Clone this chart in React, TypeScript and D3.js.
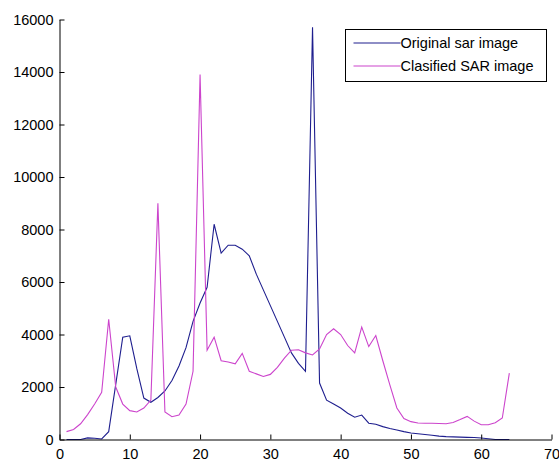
import React from "react";
import * as d3 from "d3";

// bins 1..64
const bins = d3.range(1, 65);

const originalSar = [
  0, 0, 0, 60, 50, 20, 300, 2100, 3900, 3950,
  2700, 1580, 1420, 1600, 1850, 2250, 2800, 3500, 4500, 5200,
  5800, 8200, 7100, 7400, 7400, 7250, 7000, 6300, 5700, 5100,
  4500, 3900, 3300, 2900, 2600, 15700, 2150, 1500, 1350, 1200,
  1000, 850, 930, 620, 580, 490, 420, 360, 300, 250,
  220, 190, 160, 130, 110, 100, 90, 80, 75, 60,
  30, 0, 0, 0,
];

const classifiedSar = [
  300, 380, 600, 950, 1350, 1800, 4580, 2000, 1350, 1100,
  1050, 1200, 1500, 9000, 1050, 870, 930, 1350, 2600, 13900,
  3400, 3900, 3000, 2950, 2880, 3280, 2600, 2500, 2400, 2480,
  2750, 3100, 3400, 3420, 3300, 3220, 3450, 4000, 4220, 4000,
  3580, 3300, 4280, 3540, 3960, 3000, 2080, 1200, 800, 680,
  630, 620, 620, 610, 600, 650, 760, 880, 700, 560,
  560, 640, 820, 2530,
];

const xTicks = [0, 10, 20, 30, 40, 50, 60, 70];
const yTicks = [0, 2000, 4000, 6000, 8000, 10000, 12000, 14000, 16000];

const seriesNames = ["Original sar image", "Clasified SAR image"];
const seriesColors = ["#1e1e8e", "#cc44cc"];

export default function App() {
  const width = 559;
  const height = 463;
  const left = 59.5;
  const right = 551.5;
  const top = 19.5;
  const bottom = 439.5;
  const font = "'Liberation Sans', Arial, sans-serif";

  const svgRef = React.useRef<SVGSVGElement>(null);

  React.useEffect(() => {
    const svg = d3.select(svgRef.current);

    const xScale = d3.scaleLinear().domain([0, 70]).range([left, right]);
    const yScale = d3.scaleLinear().domain([0, 16000]).range([bottom, top]);

    const xAxis = d3
      .axisBottom(xScale)
      .tickValues(xTicks)
      .tickSize(-5)
      .tickSizeOuter(0)
      .tickPadding(9);
    svg
      .select(".x-axis")
      .attr("transform", `translate(0,${bottom})`)
      .call(xAxis as any)
      .call((g: any) => g.select(".domain").attr("stroke", "#000"))
      .selectAll("text")
      .style("font-size", "14.5px")
      .style("font-family", font)
      .style("fill", "#000");

    const yAxis = d3
      .axisLeft(yScale)
      .tickValues(yTicks)
      .tickSize(-5)
      .tickSizeOuter(0)
      .tickPadding(6)
      .tickFormat(d3.format("d") as any);
    svg
      .select(".y-axis")
      .attr("transform", `translate(${left},0)`)
      .call(yAxis as any)
      .call((g: any) => g.select(".domain").attr("stroke", "#000"))
      .selectAll("text")
      .style("font-size", "14.5px")
      .style("font-family", font)
      .style("fill", "#000");

    const line = d3
      .line<number>()
      .x((v, i) => xScale(bins[i]))
      .y((v) => yScale(v));

    svg
      .select(".lines")
      .selectAll(".line")
      .data([originalSar, classifiedSar])
      .join("path")
      .attr("class", "line")
      .attr("d", (d) => line(d))
      .attr("fill", "none")
      .attr("stroke", (d, i) => seriesColors[i])
      .attr("stroke-width", 1.1);

    const legend = svg.select(".legend").attr("transform", "translate(345.5,29.5)");
    legend
      .selectAll("rect")
      .data([0])
      .join("rect")
      .attr("width", 201)
      .attr("height", 52)
      .attr("fill", "#fff")
      .attr("stroke", "#000");
    const items = legend
      .selectAll(".item")
      .data(seriesNames)
      .join("g")
      .attr("class", "item")
      .attr("transform", (d, i) => `translate(0,${13.5 + i * 23})`);
    items
      .append("line")
      .attr("x1", 8)
      .attr("x2", 55)
      .attr("stroke", (d, i) => seriesColors[i])
      .attr("stroke-width", 1.1);
    items
      .append("text")
      .attr("x", 55)
      .attr("y", 5)
      .style("font-size", "14.5px")
      .style("font-family", font)
      .text((d) => d);
  }, []);

  return (
    <svg
      ref={svgRef}
      width={width}
      height={height}
      style={{ position: "absolute", left: 0, top: 0, background: "#fff" }}
    >
      <g className="lines" />
      <g className="x-axis" />
      <g className="y-axis" />
      <g className="legend" />
    </svg>
  );
}
